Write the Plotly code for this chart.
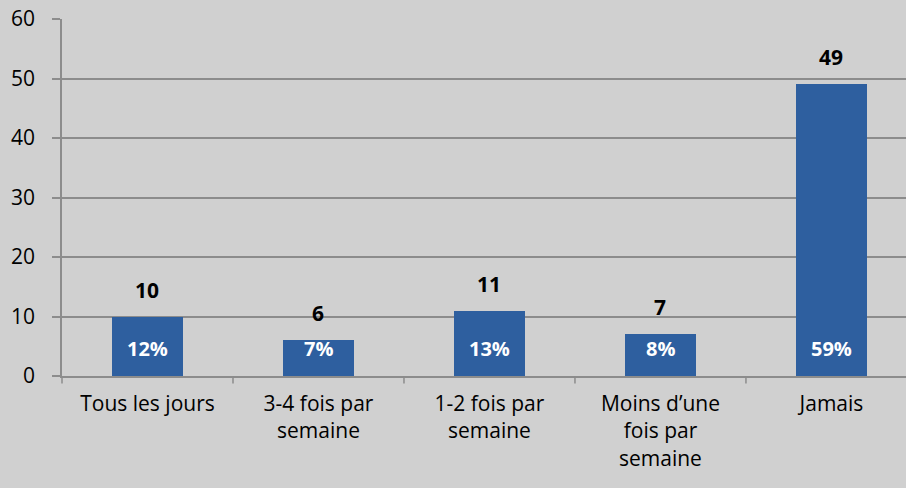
import plotly.graph_objects as go

categories = ["Tous les jours", "3-4 fois par<br>semaine", "1-2 fois par<br>semaine",
              "Moins d’une<br>fois par<br>semaine", "Jamais"]
counts = [10, 6, 11, 7, 49]
percents = ["12%", "7%", "13%", "8%", "59%"]
y_ticks = [0, 10, 20, 30, 40, 50, 60]

FONT = "Open Sans, Liberation Sans, sans-serif"
BG = "#d0d0d0"
GRID = "#8c8c8c"

fig = go.Figure()
fig.add_trace(go.Bar(
    x=list(range(len(categories))), y=counts, width=0.41,
    marker=dict(color="#2e5f9f", line=dict(width=0)),
    hoverinfo="skip", showlegend=False,
))

# count labels above bars
for i, v in enumerate(counts):
    fig.add_annotation(x=i, y=v, text="<b>%d</b>" % v, showarrow=False,
                       yanchor="middle", yshift=27,
                       font=dict(family=FONT, size=21, color="black"))
# percent labels inside bars
for i, p in enumerate(percents):
    fig.add_annotation(x=i, y=0, text="<b>%s</b>" % p, showarrow=False,
                       yanchor="middle", yshift=28,
                       font=dict(family=FONT, size=20, color="white"))

fig.update_xaxes(
    range=[-0.5, 4.436], tickmode="array",
    tickvals=list(range(len(categories))), ticktext=categories,
    showline=True, linecolor=GRID, linewidth=1.5,
    showgrid=False, zeroline=False, ticklabelstandoff=8,
    tickfont=dict(family=FONT, size=21, color="black"),
)
fig.update_yaxes(
    range=[0, 60], tickvals=y_ticks,
    showline=True, linecolor=GRID, linewidth=1.5,
    showgrid=True, gridcolor=GRID, gridwidth=1.5, zeroline=False,
    ticks="outside", ticklen=8, tickcolor=GRID, tickwidth=1.5,
    ticklabelstandoff=13,
    tickfont=dict(family=FONT, size=21, color="black"),
)

# x-axis tick marks between categories
for b in [-0.5, 0.5, 1.5, 2.5, 3.5]:
    fig.add_annotation(x=b, y=0, xref="x", yref="paper", text="", showarrow=True,
                       ax=0, ay=9, arrowhead=0, arrowcolor=GRID, arrowwidth=1.5,
                       standoff=0)

fig.update_layout(
    width=906, height=488,
    margin=dict(l=62, r=0, t=19, b=112),
    plot_bgcolor=BG, paper_bgcolor=BG,
    bargap=0, font=dict(family=FONT, color="black"),
)

fig.write_html("out.html", config={"displayModeBar": False},
               post_script="document.body.style.margin='0';")
